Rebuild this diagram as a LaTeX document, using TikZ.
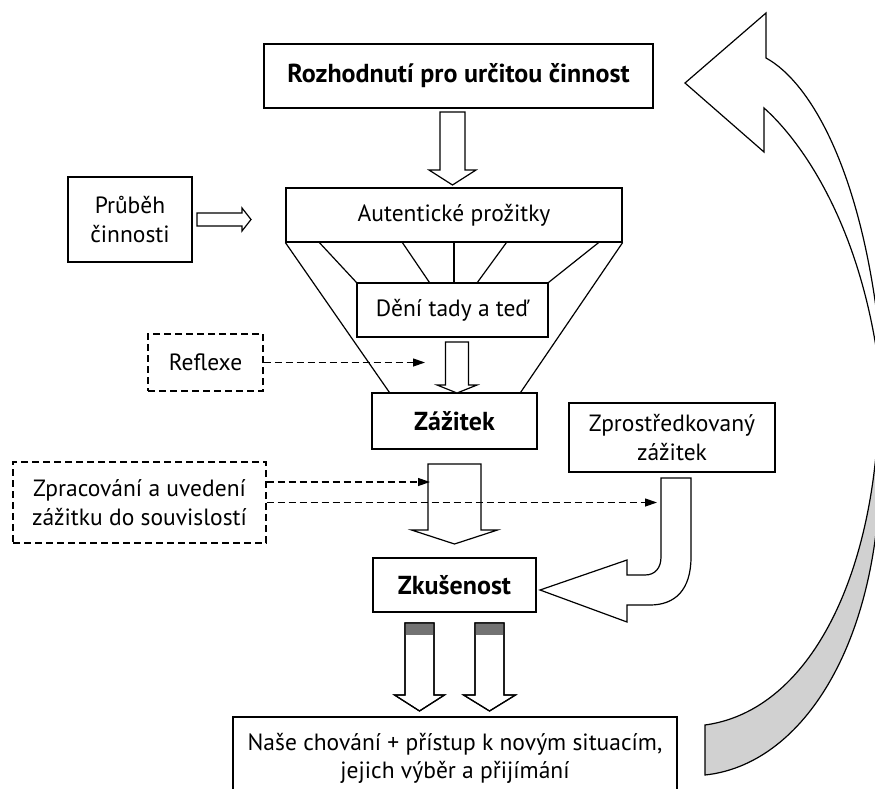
\documentclass[tikz,border=0pt]{standalone}
\usepackage{fontspec}
\setmainfont{PT Sans}
\usetikzlibrary{calc,arrows.meta}

\newcommand{\txtsize}{\fontsize{23.5}{28.5}\selectfont}
\newcommand{\ttlsize}{\fontsize{26}{30}\selectfont\bfseries}

% hollow block arrow pointing down:
% #1 style, #2 centre x, #3 top y, #4 tip y, #5 shaft half width, #6 head half width, #7 head length
\newcommand{\vblock}[7]{%
  \draw[#1] (#2-#5,#3) -- (#2+#5,#3) -- (#2+#5,#4-#7) -- (#2+#6,#4-#7)
    -- (#2,#4) -- (#2-#6,#4-#7) -- (#2-#5,#4-#7) -- cycle;}

\begin{document}
\begin{tikzpicture}[x=1pt,y=-1pt,
  box/.style={draw, line width=1.2pt, inner sep=0pt, align=center, font=\txtsize},
  tbox/.style={box, font=\ttlsize},
  dbox/.style={box, dash pattern=on 7pt off 4pt},
  blk/.style={draw, line width=1.2pt, fill=white, line join=miter},
  blkline/.style={draw, line width=1.2pt, line join=miter},
  thin/.style={line width=1.2pt},
  dasharrow/.style={line width=1.2pt, dash pattern=on 7pt off 4pt,
    -{Triangle[length=12pt,width=8pt]}},
  ribbonfront/.style={draw, line width=1.2pt, fill=white, line join=miter},
  ribbonback/.style={draw, line width=1.2pt, fill=black!18}
]
\useasboundingbox (0,0) rectangle (875,789);
\clip (0,0) rectangle (875,789);

% boxes
\node[tbox, minimum width=389, minimum height=64] (rozh) at (458.5,76) {Rozhodnutí pro určitou činnost};
\node[box, minimum width=336, minimum height=54] (aut) at (454,215) {Autentické prožitky};
\node[box, minimum width=191, minimum height=54] (den) at (452.5,310) {Dění tady a teď};
\node[tbox, minimum width=165, minimum height=56] (zaz) at (454.5,421) {Zážitek};
\node[tbox, minimum width=163, minimum height=54] (zku) at (454.5,585) {Zkušenost};
\node[box, minimum width=124, minimum height=85] (prub) at (130,219.5) {Průběh\\činnosti};
\node[dbox, minimum width=115, minimum height=57] (refl) at (205.5,362.5) {Reflexe};
\node[dbox, minimum width=253, minimum height=81] (zpr) at (139.5,502.5) {Zpracování a uvedení\\zážitku do souvislostí};
\node[box, minimum width=206, minimum height=69] (zprost) at (672,437.5) {Zprostředkovaný\\zážitek};
\node[box, minimum width=444, minimum height=83] (nase) at (455,758.5) {Naše chování + přístup k novým situacím,\\jejich výběr a přijímání};

% funnel between the boxes
\draw[thin] (aut.south west) -- ($(zaz.north west)+(18,0)$);
\draw[thin] ($(aut.south west)+(34,0)$) -- (den.north west);
\draw[thin] ($(aut.south west)+(117,0)$) -- ($(den.north west)+(73,0)$);
\draw[thin] (aut.south) -- (aut.south |- den.north);
\draw[thin] ($(aut.south west)+(221,0)$) -- ($(den.north west)+(121,0)$);
\draw[thin] ($(aut.south east)+(-24,0)$) -- (den.north east);
\draw[thin] (aut.south east) -- ($(zaz.north east)+(-17,0)$);

% hollow block arrows
\vblock{blk}{452.5}{112}{185}{12.5}{23.5}{15}
\vblock{blk}{457}{342}{393}{11.5}{20}{8}
\vblock{blk}{454.5}{464}{544}{26.5}{43}{14}
\vblock{blk}{419.5}{623}{711}{14.5}{25}{16}
\vblock{blk}{489.5}{623}{711}{14.5}{26}{16}
\fill[black!55] (405,623) rectangle (434,635);
\fill[black!55] (475,623) rectangle (504,635);
\vblock{blkline}{419.5}{623}{711}{14.5}{25}{16}
\vblock{blkline}{489.5}{623}{711}{14.5}{26}{16}

% arrow from Průběh činnosti
\draw[blk] (197,213) -- (242,213) -- (242,208) -- (251,219.5) -- (242,231)
  -- (242,226) -- (197,226) -- cycle;

% bent arrow from Zprostředkovaný zážitek
\draw[blk] (661,478) -- (691,478) -- (691,557)
  .. controls (691,590) and (675,605) .. (650,605) -- (627,605) -- (627,622)
  -- (540,590) -- (627,560) -- (627,575) -- (645,575)
  .. controls (655,575) and (661,568) .. (661,557) -- cycle;

% dashed arrows
\coordinate (reflend) at (425,362.5);
\coordinate (zprend1) at (430,482);
\coordinate (zprend2) at (657,502.5);
\draw[dasharrow] (refl.east) -- (reflend);
\draw[dasharrow] ($(zpr.east)+(0,-20.5)$) -- (zprend1);
\draw[dasharrow] (zpr.east) -- (zprend2);

% large return ribbon on the right
\draw[ribbonback] (705,725) .. controls (800,712) and (862,600) .. (876,455)
  -- (880,480) .. controls (875,650) and (800,765) .. (705,775) -- cycle;
\draw[ribbonfront] (685,83) -- (766,13) -- (766,58)
  .. controls (810,82) and (862,170) .. (880,340) -- (878,360)
  .. controls (858,220) and (800,140) .. (764,108) -- (764,152) -- cycle;
\end{tikzpicture}
\end{document}
